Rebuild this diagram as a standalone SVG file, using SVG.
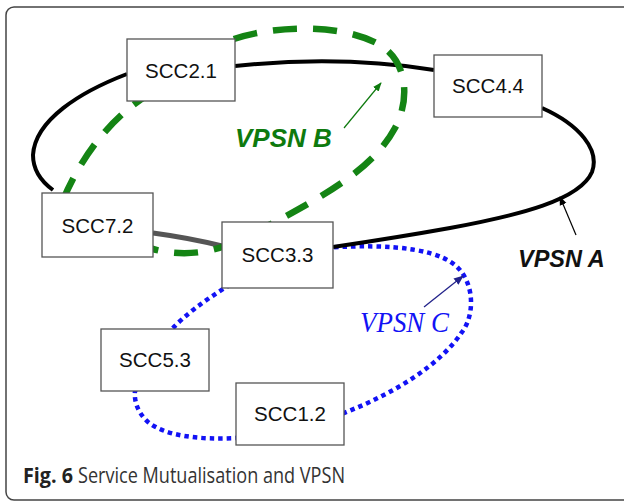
<svg xmlns="http://www.w3.org/2000/svg" width="624" height="502" viewBox="0 0 624 502">
<style>
.box{fill:#fff;stroke:#555;stroke-width:1.3}
.lbl{font-family:"Liberation Sans",Arial,sans-serif;font-size:20.5px;fill:#111;text-anchor:middle}
.a{fill:none;stroke:#000;stroke-width:4}
.b{fill:none;stroke:#148414;stroke-width:6.5;stroke-dasharray:24 16}
.c{fill:none;stroke:#1212f5;stroke-width:4.5;stroke-dasharray:4.5 4}
</style>
<defs>
<marker id="mA" viewBox="0 0 10 10" refX="9" refY="5" markerWidth="9" markerHeight="9" markerUnits="userSpaceOnUse" orient="auto"><path d="M0,1 L10,5 L0,9 Z" fill="#000"/></marker>
<marker id="mB" viewBox="0 0 10 10" refX="9" refY="5" markerWidth="9" markerHeight="9" markerUnits="userSpaceOnUse" orient="auto"><path d="M0,1 L10,5 L0,9 Z" fill="#0e7a0e"/></marker>
<marker id="mC" viewBox="0 0 10 10" refX="9" refY="5" markerWidth="10" markerHeight="10" markerUnits="userSpaceOnUse" orient="auto"><path d="M0,1 L10,5 L0,9 Z" fill="#22228a"/></marker>
</defs>
<rect x="6" y="7" width="640" height="493" rx="8" fill="#fff" stroke="#444" stroke-width="1.5"/>
<g id="connectors">
<path class="c" d="M300,250 C370,243 430,245 455,265 C475,282 475,315 462,332 C440,365 395,393 344,413 L290,420 L236,438 C200,440 165,436 148,422 C137,412 134,400 135,391 L160,360 L172,329 C185,315 205,300 228,286 Z"/>
<path class="a" d="M127,74 C80,92 35,120 33,155 C33,170 42,182 53,190"/>
<path class="a" d="M235,66 Q340,55 434,70"/>
<path class="a" d="M542,108 C580,125 600,150 592,172 C580,200 520,215 450,228 C400,237 360,243 333,247"/>
<path d="M153,233 Q190,238 222,246" fill="none" stroke="#555" stroke-width="5"/>
<path class="b" d="M63,200 C80,160 105,125 140,100 L231,40 C270,26 340,22 380,45 C408,62 410,100 395,128 C375,165 335,190 275,222 L225,246 C200,255 175,255 153,249 Z"/>
<line x1="344" y1="128" x2="381" y2="83" stroke="#0e7a0e" stroke-width="1.2" marker-end="url(#mB)"/>
<line x1="576" y1="235" x2="560" y2="197" stroke="#000" stroke-width="1.2" marker-end="url(#mA)"/>
<line x1="424" y1="307" x2="463" y2="276" stroke="#22228a" stroke-width="1.3" marker-end="url(#mC)"/>
</g>
<g id="scc21"><rect class="box" x="127" y="39" width="108" height="62"/><text class="lbl" x="181" y="78">SCC2.1</text></g>
<g id="scc44"><rect class="box" x="434" y="55" width="108" height="62"/><text class="lbl" x="488" y="93">SCC4.4</text></g>
<g id="scc72"><rect class="box" x="42" y="193" width="111" height="64"/><text class="lbl" x="97.5" y="233">SCC7.2</text></g>
<g id="scc33"><rect class="box" x="222" y="222" width="111" height="66"/><text class="lbl" x="277.5" y="262">SCC3.3</text></g>
<g id="scc53"><rect class="box" x="101" y="329" width="108" height="62"/><text class="lbl" x="155" y="367">SCC5.3</text></g>
<g id="scc12"><rect class="box" x="236" y="383" width="108" height="62"/><text class="lbl" x="290" y="421">SCC1.2</text></g>
<text x="235" y="147" font-family="Liberation Sans,Arial,sans-serif" font-size="26" font-weight="bold" font-style="italic" fill="#0e7a0e">VPSN B</text>
<text x="518" y="267" font-family="Liberation Sans,Arial,sans-serif" font-size="23.5" font-weight="bold" font-style="italic" fill="#111">VPSN A</text>
<text x="360" y="332" font-family="Liberation Serif,Times New Roman,serif" font-size="30" font-style="italic" fill="#1212f5" textLength="89" lengthAdjust="spacingAndGlyphs">VPSN C</text>
<text x="23" y="483" font-family="Open Sans,sans-serif" font-size="21" font-weight="bold" fill="#222" textLength="50" lengthAdjust="spacingAndGlyphs">Fig. 6</text>
<text x="78" y="483" font-family="Open Sans,sans-serif" font-size="21" fill="#333" textLength="267" lengthAdjust="spacingAndGlyphs">Service Mutualisation and VPSN</text>
</svg>
